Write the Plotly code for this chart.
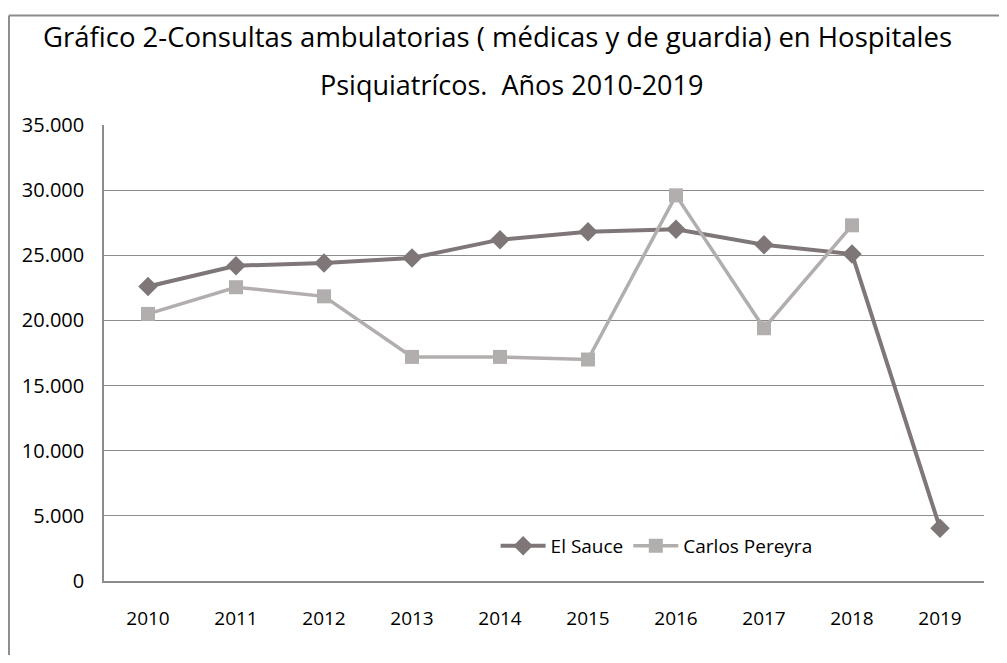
import plotly.graph_objects as go

years = ["2010", "2011", "2012", "2013", "2014", "2015", "2016", "2017", "2018", "2019"]
el_sauce = [22600, 24200, 24400, 24800, 26200, 26800, 27000, 25800, 25100, 4050]
carlos_pereyra = [20500, 22550, 21850, 17200, 17200, 17000, 29600, 19400, 27300, None]
y_ticks = [0, 5000, 10000, 15000, 20000, 25000, 30000, 35000]
title_lines = [
    "Gráfico 2-Consultas ambulatorias ( médicas y de guardia) en Hospitales",
    "Psiquiatrícos.  Años 2010-2019",
]

FONT = "Open Sans"
BORDER = "#8c8c8c"

fig = go.Figure()
fig.add_trace(
    go.Scatter(
        x=years,
        y=el_sauce,
        name="El Sauce",
        mode="lines+markers",
        line=dict(color="#7f7777", width=4),
        marker=dict(symbol="diamond", size=15, color="#7f7777"),
    )
)
fig.add_trace(
    go.Scatter(
        x=years,
        y=carlos_pereyra,
        name="Carlos Pereyra",
        mode="lines+markers",
        line=dict(color="#b3aeae", width=3.5),
        marker=dict(symbol="square", size=14, color="#b3aeae"),
    )
)

fig.update_layout(
    separators=",.",
    margin=dict(l=96, r=15, t=117, b=74),
    paper_bgcolor="#ffffff",
    plot_bgcolor="#ffffff",
    font=dict(family=FONT, color="#000000", size=19),
    legend=dict(
        orientation="h",
        x=0.445,
        xanchor="left",
        y=0.077,
        yanchor="middle",
        bgcolor="rgba(0,0,0,0)",
        font=dict(size=19),
        itemwidth=45,
    ),
    annotations=[
        dict(
            text=title_lines[0],
            xref="paper",
            yref="paper",
            x=0.447,
            y=1.193,
            xanchor="center",
            yanchor="middle",
            showarrow=False,
            font=dict(family=FONT, size=27.5, color="#000000"),
        ),
        dict(
            text=title_lines[1],
            xref="paper",
            yref="paper",
            x=0.463,
            y=1.088,
            xanchor="center",
            yanchor="middle",
            showarrow=False,
            font=dict(family=FONT, size=27, color="#000000"),
        ),
    ],
    shapes=[
        # outer chart frame: left and top edges (right/bottom fall outside the page)
        dict(type="line", xref="paper", yref="paper",
             x0=-0.108, x1=-0.108, y0=-0.2, y1=1.24,
             line=dict(color=BORDER, width=2)),
        dict(type="line", xref="paper", yref="paper",
             x0=-0.108, x1=1.03, y0=1.24, y1=1.24,
             line=dict(color=BORDER, width=2)),
    ],
)
fig.update_xaxes(
    type="category",
    showgrid=False,
    showline=True,
    linecolor=BORDER,
    linewidth=1.5,
    ticks="outside",
    ticklen=19,
    tickcolor="rgba(0,0,0,0)",
    tickfont=dict(size=19),
    range=[-0.5, 9.5],
)
fig.update_yaxes(
    range=[0, 35000],
    tickvals=y_ticks,
    tickformat=",d",
    showgrid=True,
    gridcolor=BORDER,
    gridwidth=1,
    showline=True,
    linecolor=BORDER,
    linewidth=1.5,
    ticks="outside",
    ticklen=14,
    tickcolor="rgba(0,0,0,0)",
    tickfont=dict(size=20),
    zeroline=False,
)

fig.write_html("out.html")
